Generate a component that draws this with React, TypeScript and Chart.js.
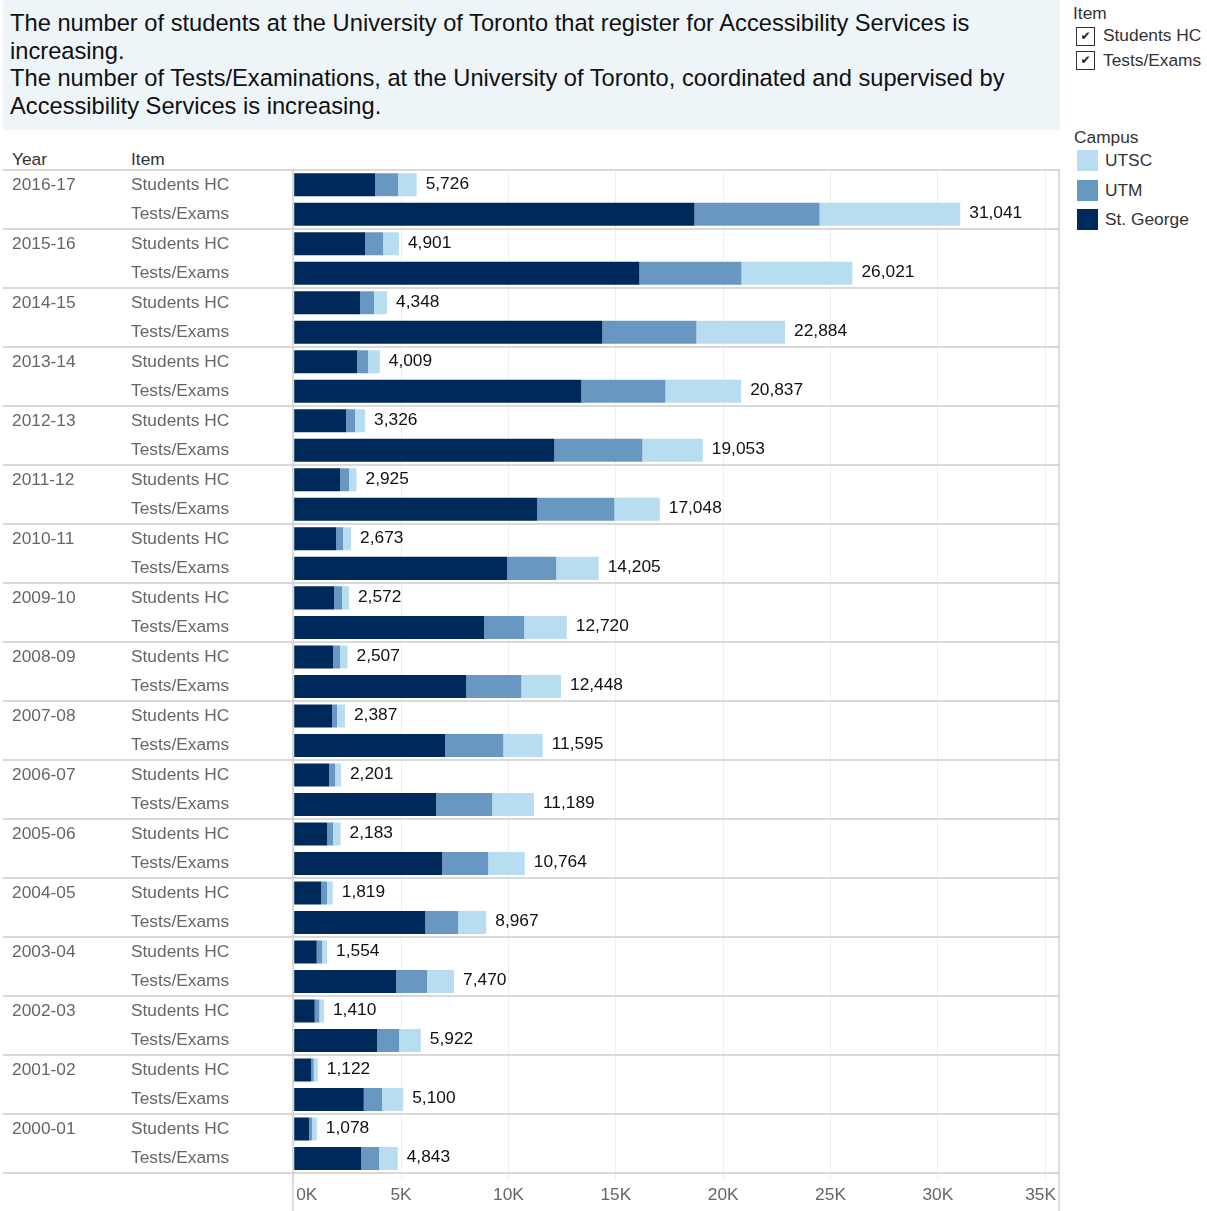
import React, { useEffect, useRef } from 'react';
import { Chart, registerables } from 'chart.js';

Chart.register(...registerables);

// ---------------- data ----------------
const years = [
  '2016-17', '2015-16', '2014-15', '2013-14', '2012-13', '2011-12', '2010-11', '2009-10', '2008-09',
  '2007-08', '2006-07', '2005-06', '2004-05', '2003-04', '2002-03', '2001-02', '2000-01',
];
const items = ['Students HC', 'Tests/Exams'];
const campuses = ['St. George', 'UTM', 'UTSC'];

const stGeorgeStudents = [3790, 3324, 3091, 2951, 2438, 2159, 1972, 1879, 1832, 1786, 1646, 1552, 1273, 1072, 979, 807, 713];
const utmStudents = [1072, 839, 653, 513, 420, 420, 326, 373, 326, 233, 280, 280, 280, 247, 214, 126, 140];
const utscStudents = [864, 738, 604, 545, 468, 346, 375, 320, 349, 368, 275, 351, 266, 235, 217, 189, 225];

const stGeorgeTests = [18662, 16098, 14373, 13394, 12135, 11343, 9944, 8872, 8033, 7054, 6634, 6914, 6121, 4769, 3883, 3263, 3138];
const utmTests = [5828, 4755, 4382, 3916, 4103, 3590, 2284, 1865, 2564, 2704, 2611, 2145, 1538, 1445, 1026, 853, 839];
const utscTests = [6551, 5168, 4129, 3527, 2815, 2115, 1977, 1983, 1851, 1837, 1944, 1705, 1308, 1256, 1013, 984, 866];

const xTickValues = [0, 5000, 10000, 15000, 20000, 25000, 30000, 35000];
const xMax = 35640;

const campusColors: Record<string, string> = {
  'St. George': '#00295b',
  UTM: '#6898c2',
  UTSC: '#b9ddf0',
};

// ---------------- helpers ----------------
const FONT = '"Liberation Sans", Arial, Helvetica, sans-serif';
const rowLabels = years.flatMap((y) => items.map((it) => `${y} ${it}`));
const interleave = (a: number[], b: number[]) => a.flatMap((v, i) => [v, b[i]]);
const fmtK = (v: number) => `${v / 1000}K`;
const fmtNum = (n: number) => String(n).replace(/\B(?=(\d{3})+(?!\d))/g, ',');

const seriesByCampus: Record<string, number[]> = {
  'St. George': interleave(stGeorgeStudents, stGeorgeTests),
  UTM: interleave(utmStudents, utmTests),
  UTSC: interleave(utscStudents, utscTests),
};

const tablePlugin = {
  id: 'tableDecor',
  beforeDatasetsDraw(chart: any) {
    const { ctx, chartArea, scales } = chart;
    const y = scales.y;
    ctx.save();
    // row group separators (full width)
    ctx.strokeStyle = '#d9d9d9';
    ctx.lineWidth = 2;
    for (let i = 0; i <= years.length; i++) {
      const py = Math.round(y.getPixelForValue(2 * i - 0.5));
      ctx.beginPath();
      ctx.moveTo(3, py);
      ctx.lineTo(chartArea.right, py);
      ctx.stroke();
    }
    // pane borders
    ctx.strokeStyle = '#d0d0d0';
    ctx.lineWidth = 1.5;
    const topY = Math.round(y.getPixelForValue(-0.5)) - 1;
    [chartArea.left - 0.75, chartArea.right].forEach((px) => {
      ctx.beginPath();
      ctx.moveTo(px, topY);
      ctx.lineTo(px, chart.height);
      ctx.stroke();
    });
    ctx.restore();
  },
  afterDatasetsDraw(chart: any) {
    const { ctx, chartArea, scales } = chart;
    const x = scales.x;
    const y = scales.y;
    ctx.save();
    ctx.font = `17.33px ${FONT}`;
    ctx.textBaseline = 'middle';
    ctx.textAlign = 'left';
    ctx.fillStyle = '#111';
    rowLabels.forEach((_, i) => {
      const total = chart.data.datasets.reduce((s: number, ds: any) => s + ds.data[i], 0);
      ctx.fillText(fmtNum(total), x.getPixelForValue(total) + 9, y.getPixelForValue(i) - 1);
    });
    // x axis tick labels, clamped inside the pane like Tableau
    ctx.fillStyle = '#666';
    x.ticks.forEach((t: any) => {
      const px = x.getPixelForValue(t.value);
      const label = fmtK(t.value);
      const w = ctx.measureText(label).width;
      let lx = px - w / 2;
      lx = Math.max(lx, chartArea.left + 2.5);
      lx = Math.min(lx, chartArea.right - 3 - w);
      ctx.fillText(label, lx, chartArea.bottom + 22);
    });
    ctx.restore();
  },
};

function BarChart() {
  const ref = useRef<HTMLCanvasElement | null>(null);
  useEffect(() => {
    if (!ref.current) return;
    const chart = new Chart(ref.current, {
      type: 'bar',
      data: {
        labels: rowLabels,
        datasets: campuses.map((c) => ({
          label: c,
          data: seriesByCampus[c],
          backgroundColor: campusColors[c],
          borderWidth: 0,
          barPercentage: 0.78,
          categoryPercentage: 1,
          yAxisID: 'y',
        })),
      },
      options: {
        indexAxis: 'y',
        responsive: false,
        animation: false,
        events: [],
        layout: { padding: { top: 30, left: 12, right: 6, bottom: 0 } },
        plugins: { legend: { display: false }, tooltip: { enabled: false }, title: { display: false } },
        scales: {
          x: {
            type: 'linear',
            stacked: true,
            min: 0,
            max: xMax,
            afterBuildTicks: (s: any) => {
              s.ticks = xTickValues.map((v) => ({ value: v }));
            },
            ticks: { display: false, callback: (v: any) => fmtK(Number(v)) },
            grid: { color: '#eeeeee', lineWidth: 1, drawTicks: true, tickLength: 7 },
            border: { display: false },
            afterFit: (s: any) => { s.height = 37.7; },
          },
          y: {
            type: 'category',
            stacked: true,
            position: 'left',
            weight: 0,
            offset: true,
            grid: { display: false },
            border: { display: false },
            ticks: {
              autoSkip: false,
              crossAlign: 'far',
              color: '#666',
              font: { family: FONT, size: 17.33 },
              callback: (_v: any, i: number) => items[i % 2],
            },
            afterFit: (s: any) => { s.width = 162.7; },
          },
          yYear: {
            type: 'category',
            labels: rowLabels,
            position: 'left',
            weight: 1,
            offset: true,
            grid: { display: false },
            border: { display: false },
            ticks: {
              autoSkip: false,
              crossAlign: 'far',
              color: '#666',
              font: { family: FONT, size: 17.33 },
              callback: (_v: any, i: number) => (i % 2 === 0 ? years[i / 2] : ''),
            },
            afterFit: (s: any) => { s.width = 119; },
          },
        },
      } as any,
      plugins: [tablePlugin],
    });
    return () => chart.destroy();
  }, []);
  return <canvas ref={ref} width={1065} height={1071} style={{ display: 'block', width: 1065, height: 1071 }} />;
}

const txt: React.CSSProperties = {
  position: 'absolute',
  fontFamily: FONT,
  fontSize: '17.33px',
  lineHeight: '20px',
  whiteSpace: 'nowrap',
  color: '#333',
};

function CheckBox({ top }: { top: number }) {
  return (
    <div
      style={{
        position: 'absolute', left: 1076, top, width: 17, height: 17,
        border: '1.5px solid #333', background: '#fff',
        fontSize: '12px', lineHeight: '17px', textAlign: 'center', color: '#222',
        fontFamily: '"DejaVu Sans", sans-serif',
      }}
    >
      ✔
    </div>
  );
}

export default function App() {
  const titleLines = [
    'The number of students at the University of Toronto that register for Accessibility Services is',
    'increasing.',
    'The number of Tests/Examinations, at the University of Toronto, coordinated and supervised by',
    'Accessibility Services is increasing.',
  ];
  const legendRows = [
    { name: 'UTSC', top: 150 },
    { name: 'UTM', top: 180 },
    { name: 'St. George', top: 209 },
  ];
  return (
    <div style={{ position: 'absolute', left: 0, top: 0, width: 1207, height: 1211, background: '#fff', overflow: 'hidden' }}>
      <div
        style={{
          position: 'absolute', left: 3, top: 0, width: 1057, height: 130, background: '#eef5f9',
          boxSizing: 'border-box', padding: '10px 0 0 7px', fontFamily: FONT, fontSize: '23.7px',
          lineHeight: '27.5px', color: '#111',
        }}
      >
        {titleLines.map((l, i) => (
          <div key={i} style={{ whiteSpace: 'nowrap' }}>{l}</div>
        ))}
      </div>

      {/* table headers */}
      <div style={{ ...txt, left: 12, top: 149 }}>Year</div>
      <div style={{ ...txt, left: 131, top: 149 }}>Item</div>

      {/* legend: Item filter */}
      <div style={{ ...txt, left: 1073, top: 3 }}>Item</div>
      <CheckBox top={27} />
      <div style={{ ...txt, left: 1103, top: 25 }}>Students HC</div>
      <CheckBox top={51} />
      <div style={{ ...txt, left: 1103, top: 50 }}>Tests/Exams</div>

      {/* legend: Campus colours */}
      <div style={{ ...txt, left: 1074, top: 127 }}>Campus</div>
      {legendRows.map((r) => (
        <React.Fragment key={r.name}>
          <div style={{ position: 'absolute', left: 1077, top: r.top, width: 21, height: 21, background: campusColors[r.name] }} />
          <div style={{ ...txt, left: 1105, top: r.top }}>{r.name}</div>
        </React.Fragment>
      ))}

      <div style={{ position: 'absolute', left: 0, top: 140 }}>
        <BarChart />
      </div>
    </div>
  );
}
